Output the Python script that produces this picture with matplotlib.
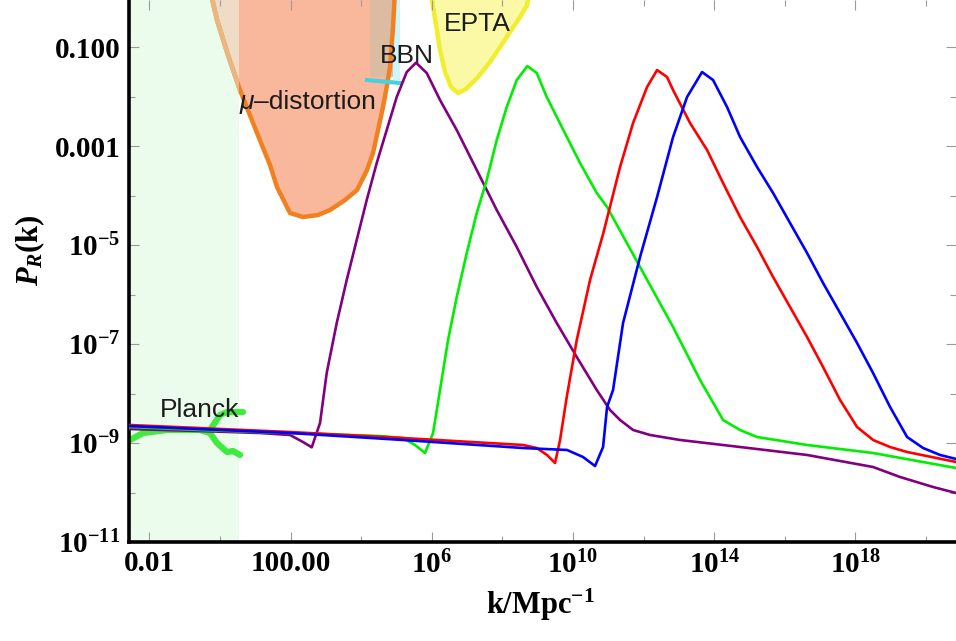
import numpy as np
import matplotlib
matplotlib.use("Agg")
import matplotlib.pyplot as plt
from matplotlib.ticker import FixedLocator, NullFormatter
from matplotlib.patches import Polygon, Rectangle

plt.rcParams['mathtext.fontset'] = 'custom'
plt.rcParams['mathtext.rm'] = 'Liberation Serif:bold'
plt.rcParams['mathtext.bf'] = 'Liberation Serif:bold'
plt.rcParams['mathtext.it'] = 'Liberation Serif:italic:bold'

# ---------------- data (log10 k [Mpc^-1], log10 P_R) ----------------
purple_logk = [-2.575, -0.564, 1.136, 1.986, 2.354, 2.601, 2.836, 3.025, 3.309, 3.592,
               3.875, 4.159, 4.442, 4.725, 5.008, 5.292, 5.555, 5.858, 6.235, 6.708,
               7.275, 7.841, 8.408, 8.975, 9.541, 10.108, 10.674, 11.051, 11.334, 11.703,
               12.184, 13.034, 14.734, 16.632, 18.501, 19.266, 20.201, 20.853]
purple_logP = [-8.717, -8.758, -8.798, -8.838, -8.980, -9.087, -8.596, -7.586, -6.576, -5.707,
               -4.899, -4.091, -3.343, -2.677, -2.010, -1.505, -1.317, -1.525, -2.071, -2.677,
               -3.485, -4.293, -5.040, -5.848, -6.576, -7.263, -7.929, -8.333, -8.535, -8.737,
               -8.838, -8.939, -9.081, -9.242, -9.485, -9.687, -9.889, -10.010]

green_logk = [-2.575, -0.564, 1.986, 4.535, 5.187, 5.527, 5.810, 6.037, 6.235, 6.462,
              6.708, 6.992, 7.275, 7.558, 7.841, 8.125, 8.408, 8.708, 8.975, 9.258,
              9.728, 10.201, 10.674, 10.966, 11.901, 12.836, 13.601, 14.252, 14.734, 15.215,
              16.632, 18.501, 20.853]
green_logP = [-8.677, -8.737, -8.798, -8.859, -8.899, -9.040, -9.202, -8.798, -7.929, -6.919,
              -6.051, -5.162, -4.354, -3.687, -2.879, -2.212, -1.667, -1.384, -1.525, -2.010,
              -2.677, -3.343, -3.949, -4.232, -5.444, -6.657, -7.727, -8.535, -8.737, -8.879,
              -9.040, -9.202, -9.505]

red_logk = [-2.575, 1.986, 5.187, 8.586, 8.975, 9.266, 9.493, 9.635, 9.824, 10.108,
            10.484, 10.861, 11.334, 11.703, 12.099, 12.383, 12.666, 12.836, 13.317, 13.799,
            14.252, 14.734, 15.215, 15.669, 16.150, 16.632, 17.085, 17.567, 18.048, 18.501,
            18.983, 19.465, 20.853]
red_logP = [-8.636, -8.778, -8.899, -9.040, -9.101, -9.242, -9.404, -8.939, -8.071, -6.919,
            -5.707, -4.758, -3.424, -2.535, -1.808, -1.465, -1.606, -1.869, -2.535, -3.081,
            -3.747, -4.434, -5.040, -5.646, -6.253, -6.859, -7.465, -8.131, -8.677, -8.939,
            -9.081, -9.182, -9.384]

blue_logk = [-2.575, 1.986, 5.187, 8.586, 9.833, 10.286, 10.626, 10.853, 10.966, 11.136,
             11.419, 11.901, 12.383, 12.836, 13.232, 13.657, 13.969, 14.365, 14.734, 15.215,
             15.669, 16.150, 16.632, 17.085, 17.567, 18.048, 18.501, 18.983, 19.465, 19.918,
             20.399, 20.853]
blue_logP = [-8.657, -8.798, -8.939, -9.101, -9.141, -9.283, -9.465, -9.081, -8.273, -7.929,
             -6.576, -5.242, -4.030, -2.818, -2.010, -1.505, -1.667, -2.212, -2.818, -3.424,
             -3.949, -4.556, -5.162, -5.768, -6.374, -6.980, -7.586, -8.273, -8.879, -9.101,
             -9.242, -9.323]

# constraint outlines (log10 k, log10 P)
mu_logk = [-0.280, -0.082, 0.229, 0.569, 1.051, 1.419, 1.618, 1.986, 2.354, 2.779, 3.119,
           3.544, 3.884, 4.167, 4.337, 4.479, 4.620, 4.734, 4.819, 4.904, 4.960]
mu_logP = [0.152, -0.455, -1.162, -1.869, -2.737, -3.384, -3.828, -4.354, -4.434, -4.394, -4.293,
           -4.091, -3.889, -3.485, -3.141, -2.677, -2.212, -1.768, -1.404, -0.596, 0.152]

epta_logk = [5.952, 6.008, 6.122, 6.235, 6.377, 6.547, 6.745, 6.972, 7.312, 7.652, 7.935,
             8.218, 8.501, 8.700, 8.785]
epta_logP = [0.152, -0.051, -0.556, -1.061, -1.505, -1.808, -1.929, -1.848, -1.606, -1.303,
             -1.000, -0.697, -0.394, -0.152, 0.152]

planck_lo_logk = [-2.547, -2.178, -1.499, -0.564, -0.280, -0.082, 0.201, 0.371, 0.569]
planck_lo_logP = [-8.939, -8.798, -8.737, -8.737, -8.798, -9.000, -9.182, -9.162, -9.242]
planck_up_logk = [-0.280, 0.003, 0.201, 0.654]
planck_up_logP = [-8.737, -8.434, -8.374, -8.374]

bbn_logk = [4.167, 5.10]
bbn_logP = [-1.667, -1.727]

planck_band_max = 0.55      # log10 k edge of shaded Planck band
tan_band = (4.25, 4.90, -1.606)
cyan_band = (4.90, 5.10, -1.667)

xticks_major = [1e-2, 1e2, 1e6, 1e10, 1e14, 1e18]
xtick_labels = ['0.01', '100.00', r'$\mathbf{10^{6}}$', r'$\mathbf{10^{10}}$',
                r'$\mathbf{10^{14}}$', r'$\mathbf{10^{18}}$']
xticks_minor = [1e0, 1e4, 1e8, 1e12, 1e16, 1e20]
yticks_major = [1e-1, 1e-3, 1e-5, 1e-7, 1e-9, 1e-11]
ytick_labels = ['0.100', '0.001', r'$\mathbf{10^{-5}}$', r'$\mathbf{10^{-7}}$',
                r'$\mathbf{10^{-9}}$', r'$\mathbf{10^{-11}}$']
yticks_minor = [1e-2, 1e-4, 1e-6, 1e-8, 1e-10]

# ---------------- figure ----------------
fig = plt.figure(figsize=(9.56, 6.41), dpi=100)
ax = fig.add_axes([129/956, 1 - 542/641, 1 - 129/956, 542/641])
ax.set_xscale('log')
ax.set_yscale('log')
ax.set_xlim(10**-2.575, 10**20.85)
ax.set_ylim(1e-11, 10**-0.05)

def P(a):
    return 10**np.asarray(a)

# Planck band
ax.axvspan(10**-3, 10**planck_band_max, color='#ecfcec', zorder=0, lw=0)

# mu-distortion region
mu_xy = np.column_stack([P(mu_logk), P(mu_logP)])
ax.add_patch(Polygon(mu_xy, closed=True, facecolor='#f9b89c', edgecolor='none', zorder=1))
pb = Polygon(mu_xy, closed=True, facecolor='#eedcc6', edgecolor='none', zorder=1.1)
ax.add_patch(pb)
pb.set_clip_path(Rectangle((10**-3, 1e-12), 10**planck_band_max - 10**-3, 10, transform=ax.transData))
ax.add_patch(Rectangle((10**tan_band[0], 10**tan_band[2]), 10**tan_band[1] - 10**tan_band[0], 10,
                       facecolor='#dcbba3', edgecolor='none', zorder=1.2))
ax.add_patch(Rectangle((10**cyan_band[0], 10**cyan_band[2]), 10**cyan_band[1] - 10**cyan_band[0], 10,
                       facecolor='#cdf5fa', edgecolor='none', zorder=1.2))
ax.plot(P(mu_logk), P(mu_logP), color='#f08020', lw=3.2, zorder=1.5, solid_capstyle='round')
l2, = ax.plot(P(mu_logk), P(mu_logP), color='#e9b880', lw=3.4, zorder=1.6, solid_capstyle='round')
l2.set_clip_path(Rectangle((10**-3, 1e-12), 10**planck_band_max - 10**-3, 10, transform=ax.transData))
ax.plot(P(bbn_logk), P(bbn_logP), color='#45d2dc', lw=3, zorder=1.7)

# EPTA region
epta_xy = np.column_stack([P(epta_logk), P(epta_logP)])
ax.add_patch(Polygon(epta_xy, closed=True, facecolor='#fbf8a6', edgecolor='#f0ee30', lw=3.2, zorder=1))

# Planck data
ax.plot(P(planck_lo_logk), P(planck_lo_logP), color='#40ea40', lw=4.5, zorder=2, solid_capstyle='round')
ax.plot(P(planck_up_logk), P(planck_up_logP), color='#40ea40', lw=4.5, zorder=2, solid_capstyle='round')

# labels of constraints
tkw = dict(family='Liberation Sans', color='#1c1c1c', va='center', zorder=3, fontsize=19)
ax.text(10**-0.564, 10**-8.333, 'Planck', ha='center', **tkw)
ax.text(10**0.96, 10**-2.111, 'μ', ha='right', fontstyle='italic', **tkw)
ax.text(10**0.96, 10**-2.111, '–distortion', ha='left', **tkw)
ax.text(10**5.30, 10**-1.19, 'BBN', ha='center', **tkw)
ax.text(10**7.287, 10**-0.535, 'EPTA', ha='center', **tkw)

# spectra
lw = 1.9
ax.plot(P(purple_logk), P(purple_logP), color='#800080', lw=lw, zorder=4)
ax.plot(P(green_logk), P(green_logP), color='#00ee00', lw=lw, zorder=4)
ax.plot(P(red_logk), P(red_logP), color='#ff0000', lw=lw, zorder=4)
ax.plot(P(blue_logk), P(blue_logP), color='#0000ff', lw=lw, zorder=4)

# ticks
ax.xaxis.set_major_locator(FixedLocator(xticks_major))
ax.xaxis.set_minor_locator(FixedLocator(xticks_minor))
ax.set_xticklabels(xtick_labels)
ax.xaxis.set_minor_formatter(NullFormatter())
ax.yaxis.set_major_locator(FixedLocator(yticks_major))
ax.yaxis.set_minor_locator(FixedLocator(yticks_minor))
ax.set_yticklabels(ytick_labels)
ax.yaxis.set_minor_formatter(NullFormatter())
ax.tick_params(which='both', direction='in', color='#9a9a9a', top=True, right=True, width=0.8,
               labelsize=21, pad=6)
ax.tick_params(which='major', length=7)
ax.tick_params(which='minor', length=4)
for lab in ax.get_xticklabels() + ax.get_yticklabels():
    lab.set_fontfamily('Liberation Serif')
    lab.set_fontweight('bold')

for s in ['left', 'bottom']:
    ax.spines[s].set_linewidth(2.6)
    ax.spines[s].set_color('black')
for s in ['top', 'right']:
    ax.spines[s].set_visible(False)

fig.text(540/956, 1 - 605/641, r'k/Mpc$^{-1}$', fontsize=22, family='Liberation Serif',
         fontweight='bold', ha='center', va='center')
fig.text(30/956, 1 - 250/641, r'$P_R$(k)', fontsize=22, family='Liberation Serif',
         fontweight='bold', ha='center', va='center', rotation=90)

fig.savefig('out.png', dpi=100)
